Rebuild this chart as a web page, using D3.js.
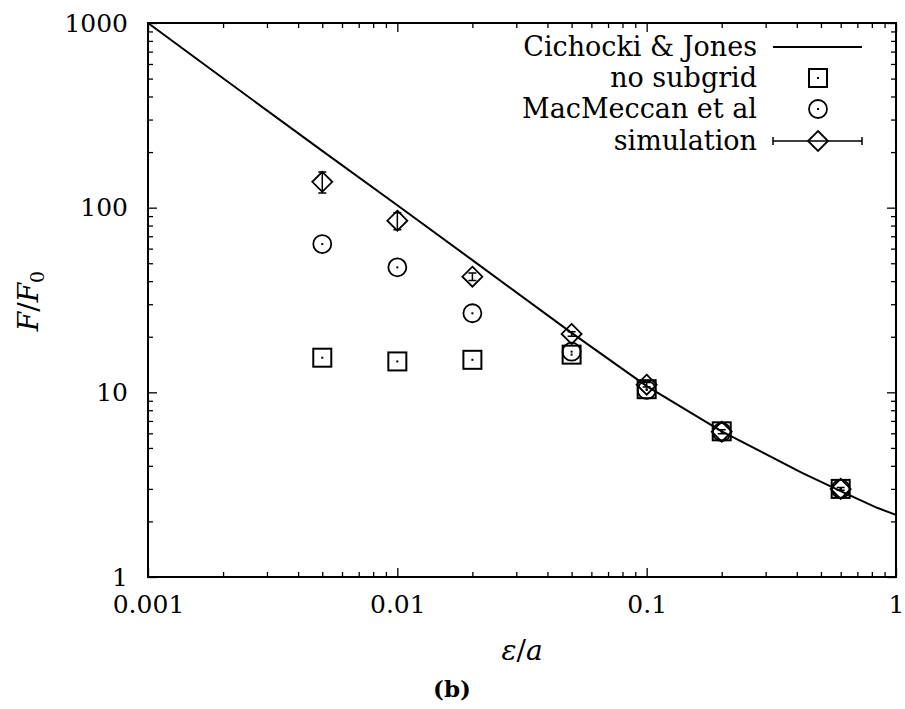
<!DOCTYPE html>
<html>
<head>
<meta charset="utf-8">
<script src="https://cdn.jsdelivr.net/npm/d3@7"></script>
<style>
body { margin: 0; background: #fff; }
svg text { font-family: "DejaVu Serif", "Liberation Serif", serif; fill: #000; }
</style>
</head>
<body>
<svg width="905" height="709"></svg>
<script>
// data
var eps = [0.005, 0.01, 0.02, 0.05, 0.1, 0.2, 0.6];
var noSubgrid = [15.4, 14.7, 15.0, 16.0, 10.4, 6.15, 3.0];
var macMeccan = [63.5, 47.5, 26.8, 16.6, 10.3, 6.1, 3.0];
var simulation = [138, 85, 42.3, 20.7, 11.0, 6.12, 3.0];
var simErr = [18, 9, 2, 0.6, 0.3, 0.15, 0.05];

var cjEps = [0.001, 0.002, 0.005, 0.01, 0.02, 0.05, 0.1, 0.2, 0.42, 0.6, 0.84, 1];
var cjF = [1000, 502, 203, 103, 52, 21, 10.8, 6.15, 3.66, 2.92, 2.37, 2.17];

var xMajor = [0.001, 0.01, 0.1, 1];
var xLabels = ['0.001', '0.01', '0.1', '1'];
var yMajor = [1, 10, 100, 1000];
var yLabels = ['1', '10', '100', '1000'];
var legendNames = ['Cichocki & Jones', 'no subgrid', 'MacMeccan et al', 'simulation'];

var L = 148, R = 896, T = 23, B = 577;
var FONT = '"DejaVu Serif", "Liberation Serif", serif';
var svg = d3.select('svg');

var x = d3.scaleLog().domain([0.001, 1]).range([L, R]);
var y = d3.scaleLog().domain([1, 1000]).range([B, T]);

function minors(dom) {
  var out = [];
  for (var d = dom[0]; d < dom[1]; d *= 10)
    for (var k = 2; k <= 9; k++) out.push(d * k);
  return out;
}
var xMinor = minors([0.001, 1]);
var yMinor = minors([1, 1000]);

// ticks (inward, mirrored)
function tickAxis(axis, vals, size, tr, labels) {
  var g = svg.append('g').attr('transform', tr)
    .call(axis.tickValues(vals).tickSizeInner(size).tickSizeOuter(0).tickPadding(12)
      .tickFormat(labels ? function(d, i) { return labels[i]; } : ''));
  g.attr('font-family', null).attr('font-size', null);
  g.select('.domain').remove();
  g.selectAll('line').attr('stroke', '#000').attr('stroke-width', 1.3);
  g.selectAll('text').style('font-size', '25px').style('font-family', FONT);
  return g;
}
var gxb = tickAxis(d3.axisBottom(x), xMajor, -9, 'translate(0,' + B + ')', xLabels);
gxb.selectAll('text').attr('y', 18).attr('dy', '0.71em');
tickAxis(d3.axisBottom(x), xMinor, -5, 'translate(0,' + B + ')');
tickAxis(d3.axisTop(x), xMajor, -9, 'translate(0,' + T + ')', ['', '', '', '']);
tickAxis(d3.axisTop(x), xMinor, -5, 'translate(0,' + T + ')');
var gyl = tickAxis(d3.axisLeft(y), yMajor, -9, 'translate(' + L + ',0)', yLabels);
gyl.selectAll('text').attr('x', -20);
tickAxis(d3.axisLeft(y), yMinor, -5, 'translate(' + L + ',0)');
tickAxis(d3.axisRight(y), yMajor, -9, 'translate(' + R + ',0)', ['', '', '', '']);
tickAxis(d3.axisRight(y), yMinor, -5, 'translate(' + R + ',0)');

// frame
svg.append('rect').attr('x', L).attr('y', T).attr('width', R - L).attr('height', B - T)
  .attr('fill', 'none').attr('stroke', '#000').attr('stroke-width', 2);

var plot = svg.append('g');

// Cichocki & Jones curve
var line = d3.line().x(function(d) { return x(d[0]); }).y(function(d) { return y(d[1]); });
plot.append('path').datum(d3.zip(cjEps, cjF)).attr('d', line)
  .attr('fill', 'none').attr('stroke', '#000').attr('stroke-width', 2);

function square(g, cx, cy) {
  g.append('rect').attr('x', cx - 9).attr('y', cy - 9).attr('width', 18).attr('height', 18)
    .attr('fill', 'none').attr('stroke', '#000').attr('stroke-width', 2);
  g.append('rect').attr('x', cx - 1).attr('y', cy - 1).attr('width', 2).attr('height', 2).attr('fill', '#000');
}
function circle(g, cx, cy) {
  g.append('circle').attr('cx', cx).attr('cy', cy).attr('r', 9)
    .attr('fill', 'none').attr('stroke', '#000').attr('stroke-width', 1.8);
  g.append('rect').attr('x', cx - 1).attr('y', cy - 1).attr('width', 2).attr('height', 2).attr('fill', '#000');
}
function diamond(g, cx, cy) {
  g.append('path').attr('d', 'M' + cx + ',' + (cy - 10) + 'L' + (cx + 10) + ',' + cy + 'L' + cx + ',' + (cy + 10) + 'L' + (cx - 10) + ',' + cy + 'Z')
    .attr('fill', 'none').attr('stroke', '#000').attr('stroke-width', 1.8);
}

eps.forEach(function(e, i) {
  var cx = x(e);
  square(plot, cx, y(noSubgrid[i]));
  circle(plot, cx, y(macMeccan[i]));
  var y0 = y(simulation[i] + simErr[i]), y1 = y(simulation[i] - simErr[i]);
  plot.append('path')
    .attr('d', 'M' + cx + ',' + y0 + 'V' + y1 + 'M' + (cx - 4) + ',' + y0 + 'H' + (cx + 4) + 'M' + (cx - 4) + ',' + y1 + 'H' + (cx + 4))
    .attr('fill', 'none').attr('stroke', '#000').attr('stroke-width', 1.5);
  diamond(plot, cx, y(simulation[i]));
});

// legend
var legY = [47, 78, 109, 141];
var lg = svg.append('g');
legendNames.forEach(function(n, i) {
  lg.append('text').attr('x', 757).attr('y', legY[i] + 9).attr('text-anchor', 'end')
    .style('font-size', '27px').text(n);
});
lg.append('line').attr('x1', 773).attr('x2', 862).attr('y1', legY[0]).attr('y2', legY[0])
  .attr('stroke', '#000').attr('stroke-width', 2);
square(lg, 818, legY[1]);
circle(lg, 818, legY[2]);
lg.append('path').attr('d', 'M773,' + legY[3] + 'H862M773,' + (legY[3] - 4) + 'V' + (legY[3] + 4) + 'M862,' + (legY[3] - 4) + 'V' + (legY[3] + 4))
  .attr('fill', 'none').attr('stroke', '#000').attr('stroke-width', 1.5);
diamond(lg, 818, legY[3]);

// axis labels
var yl = svg.append('text').attr('transform', 'translate(38,301) rotate(-90)')
  .attr('text-anchor', 'middle').style('font-size', '28px');
yl.append('tspan').style('font-style', 'italic').text('F');
yl.append('tspan').text('/');
yl.append('tspan').style('font-style', 'italic').text('F');
yl.append('tspan').attr('dy', 6).style('font-size', '19px').text('0');

var xl = svg.append('text').attr('x', 522).attr('y', 660).attr('text-anchor', 'middle').style('font-size', '28px');
xl.append('tspan').style('font-style', 'italic').text('ε');
xl.append('tspan').text('/');
xl.append('tspan').style('font-style', 'italic').text('a');

svg.append('text').attr('x', 452).attr('y', 697).attr('text-anchor', 'middle')
  .style('font-size', '23px').style('font-weight', 'bold').text('(b)');
</script>
</body>
</html>
